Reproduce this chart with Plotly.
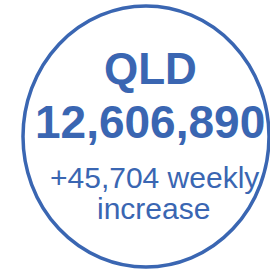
import plotly.graph_objects as go

region = ["QLD"]
total_doses = [12606890]
weekly_increase = [45704]

W, H = 270, 269
blue = "#3A66B2"

fig = go.Figure()
fig.add_shape(type="circle", xref="x", yref="y", x0=23, x1=269, y0=6, y1=267,
              line=dict(color=blue, width=3.5), fillcolor="white", layer="below")

lines = [
    (region[0], 150, 68, 44, True),
    (f"{total_doses[0]:,}", 150, 121.5, 46, True),
    (f"+{weekly_increase[0]:,} weekly", 154, 177.5, 30, False),
    ("increase", 153, 208, 30, False),
]
for txt, x, y, size, bold in lines:
    fig.add_annotation(x=x, y=y, xref="x", yref="y", text=f"<b>{txt}</b>" if bold else txt,
                       showarrow=False, xanchor="center", yanchor="middle",
                       font=dict(family="Liberation Sans, Arial, sans-serif", size=size, color=blue))

fig.update_layout(width=W, height=H, margin=dict(l=0, r=0, t=0, b=0),
                  paper_bgcolor="white", plot_bgcolor="white", showlegend=False,
                  xaxis=dict(range=[0, W], visible=False, fixedrange=True),
                  yaxis=dict(range=[H, 0], visible=False, fixedrange=True))
fig.write_html("out.html", config={"displayModeBar": False},
               post_script="document.body.style.margin='0';document.body.style.overflow='hidden';")
